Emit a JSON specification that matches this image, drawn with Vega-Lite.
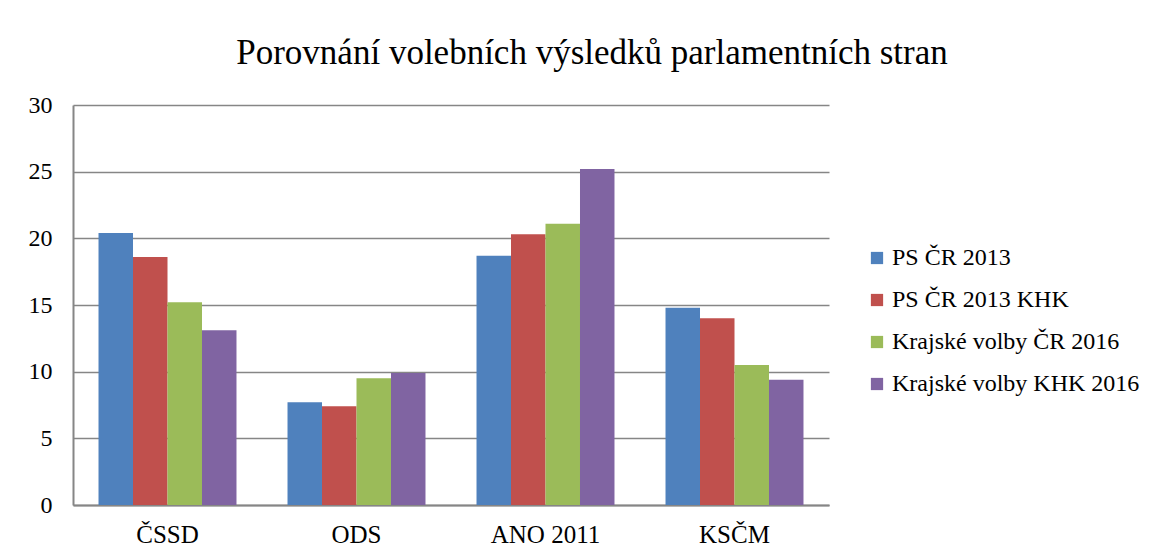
{
  "$schema": "https://vega.github.io/schema/vega-lite/v6.json",
  "width": 756,
  "height": 400,
  "autosize": {"type": "none"},
  "padding": {"left": 73, "top": 105, "right": 337, "bottom": 53},
  "background": "white",
  "title": {
    "text": "Porovnání volebních výsledků parlamentních stran",
    "font": "Liberation Serif",
    "fontSize": 35,
    "fontWeight": "normal",
    "color": "#000000",
    "anchor": "middle",
    "dx": 141,
    "offset": 22
  },
  "data": {
    "values": [
      {"strana": "ČSSD", "serie": "PS ČR 2013", "hodnota": 20.4},
      {"strana": "ČSSD", "serie": "PS ČR 2013 KHK", "hodnota": 18.6},
      {"strana": "ČSSD", "serie": "Krajské volby ČR 2016", "hodnota": 15.2},
      {"strana": "ČSSD", "serie": "Krajské volby KHK 2016", "hodnota": 13.1},
      {"strana": "ODS", "serie": "PS ČR 2013", "hodnota": 7.7},
      {"strana": "ODS", "serie": "PS ČR 2013 KHK", "hodnota": 7.4},
      {"strana": "ODS", "serie": "Krajské volby ČR 2016", "hodnota": 9.5},
      {"strana": "ODS", "serie": "Krajské volby KHK 2016", "hodnota": 9.9},
      {"strana": "ANO 2011", "serie": "PS ČR 2013", "hodnota": 18.7},
      {"strana": "ANO 2011", "serie": "PS ČR 2013 KHK", "hodnota": 20.3},
      {"strana": "ANO 2011", "serie": "Krajské volby ČR 2016", "hodnota": 21.1},
      {"strana": "ANO 2011", "serie": "Krajské volby KHK 2016", "hodnota": 25.2},
      {"strana": "KSČM", "serie": "PS ČR 2013", "hodnota": 14.8},
      {"strana": "KSČM", "serie": "PS ČR 2013 KHK", "hodnota": 14.0},
      {"strana": "KSČM", "serie": "Krajské volby ČR 2016", "hodnota": 10.5},
      {"strana": "KSČM", "serie": "Krajské volby KHK 2016", "hodnota": 9.4}
    ]
  },
  "mark": {"type": "bar"},
  "encoding": {
    "x": {
      "field": "strana",
      "type": "nominal",
      "sort": ["ČSSD", "ODS", "ANO 2011", "KSČM"],
      "scale": {"paddingInner": 0.27, "paddingOuter": 0.135},
      "axis": {
        "title": null,
        "labelAngle": 0,
        "labelFont": "Liberation Serif",
        "labelFontSize": 25,
        "labelColor": "#000000",
        "labelPadding": 17,
        "ticks": false,
        "domainColor": "#868686",
        "domainWidth": 2
      }
    },
    "xOffset": {
      "field": "serie",
      "type": "nominal",
      "sort": ["PS ČR 2013", "PS ČR 2013 KHK", "Krajské volby ČR 2016", "Krajské volby KHK 2016"],
      "scale": {"paddingInner": 0, "paddingOuter": 0}
    },
    "y": {
      "field": "hodnota",
      "type": "quantitative",
      "scale": {"domain": [0, 30], "nice": false},
      "axis": {
        "title": null,
        "values": [0, 5, 10, 15, 20, 25, 30],
        "labelFont": "Liberation Serif",
        "labelFontSize": 24,
        "labelColor": "#000000",
        "labelPadding": 21,
        "ticks": false,
        "grid": true,
        "gridColor": "#868686",
        "gridWidth": 1.5,
        "domainColor": "#868686",
        "domainWidth": 2
      }
    },
    "color": {
      "field": "serie",
      "type": "nominal",
      "sort": ["PS ČR 2013", "PS ČR 2013 KHK", "Krajské volby ČR 2016", "Krajské volby KHK 2016"],
      "scale": {
        "domain": ["PS ČR 2013", "PS ČR 2013 KHK", "Krajské volby ČR 2016", "Krajské volby KHK 2016"],
        "range": ["#4F81BD", "#C0504D", "#9BBB59", "#8064A2"]
      },
      "legend": {
        "title": null,
        "orient": "none",
        "legendX": 792,
        "legendY": 141,
        "symbolType": "square",
        "symbolSize": 150,
        "symbolStrokeWidth": 0,
        "labelFont": "Liberation Serif",
        "labelFontSize": 24,
        "labelColor": "#000000",
        "labelOffset": 3,
        "rowPadding": 18,
        "labelLimit": 400
      }
    }
  },
  "config": {
    "view": {"stroke": null}
  }
}
